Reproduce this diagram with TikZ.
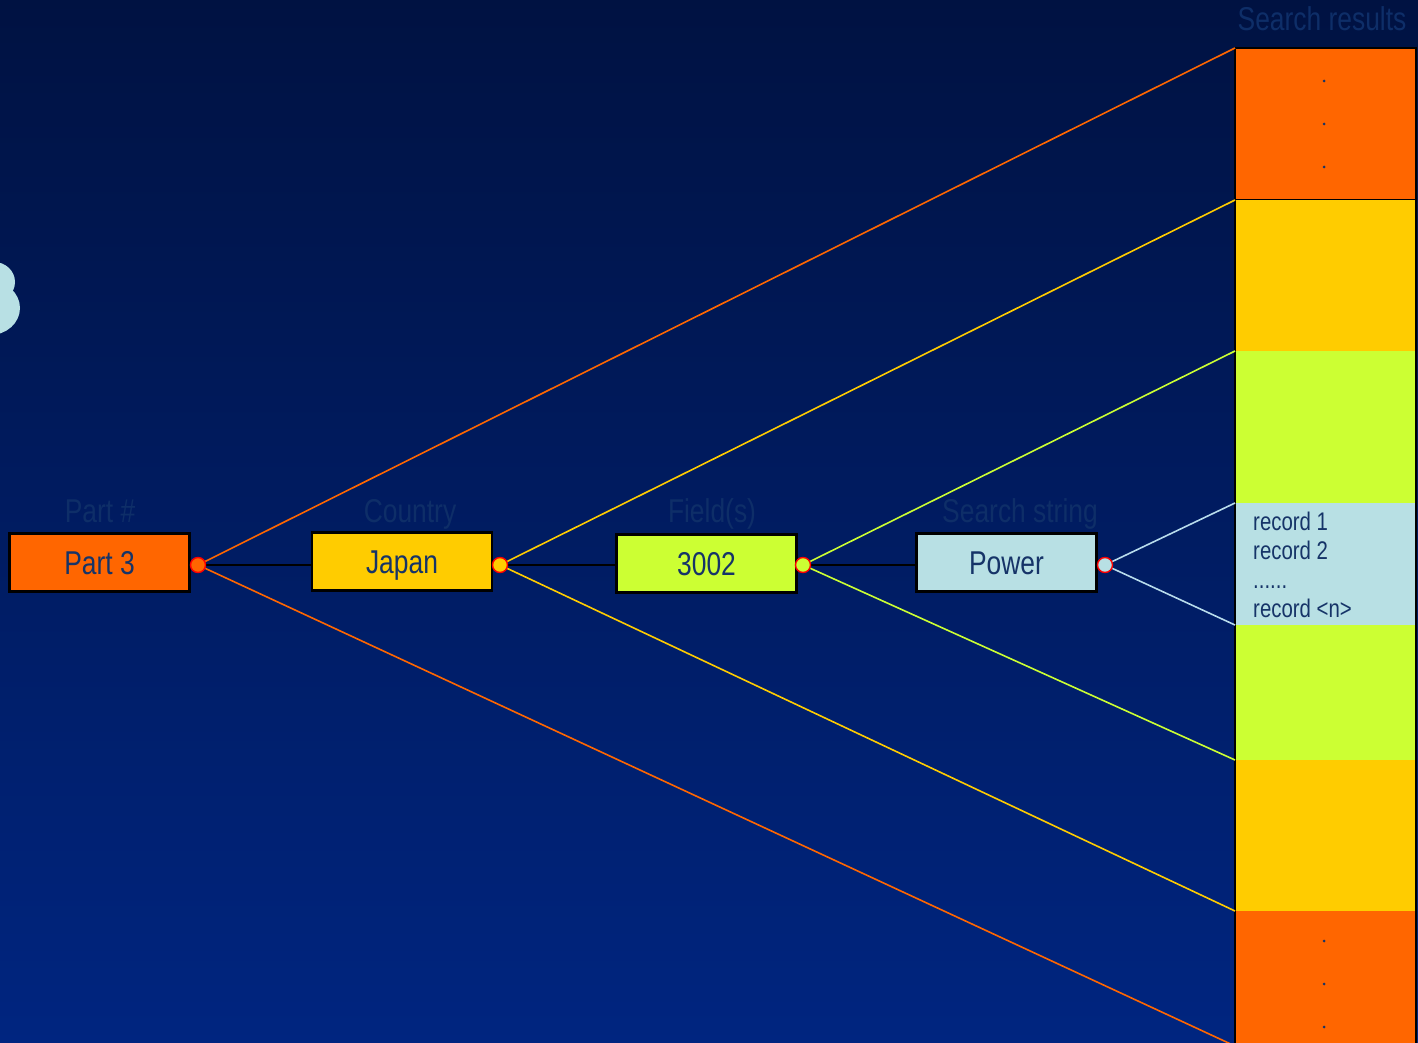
\documentclass[tikz,border=0pt]{standalone}
\usepackage{fontspec}
\setmainfont{Liberation Sans}[FakeStretch=0.8]
\definecolor{bgtop}{RGB}{0,18,66}
\definecolor{bgbot}{RGB}{0,37,128}
\definecolor{orng}{HTML}{FF6600}
\definecolor{yell}{HTML}{FFCC00}
\definecolor{lime}{HTML}{CCFF33}
\definecolor{cyn}{HTML}{B8E0E4}
\definecolor{cynline}{HTML}{B8DCEC}
\definecolor{txt}{RGB}{22,52,104}
\definecolor{lbl}{RGB}{14,46,104}
\begin{document}
\begin{tikzpicture}[x=1pt,y=-1pt,
  box/.style={draw=black, line width=2.2pt, minimum width=180pt, minimum height=58pt, inner sep=0pt,
    text height=30pt, text depth=6pt,
    text=txt, font=\fontsize{33}{38}\selectfont},
  lab/.style={text=lbl, font=\fontsize{33}{38}\selectfont, inner sep=0pt, anchor=base},
  seg/.style={minimum width=181pt, inner sep=0pt, anchor=north west, outer sep=0pt},
  joint/.style={circle, draw=red, line width=1.4pt, minimum size=15pt, inner sep=0pt},
  fan/.style={line width=1.6pt},
  rec/.style={text=txt, font=\fontsize{25.5}{30}\selectfont, inner sep=0pt, anchor=base west},
  dotmark/.style={circle, fill=txt, minimum size=3pt, inner sep=0pt}
]
\useasboundingbox (0,0) rectangle (1418,1043);
\shade[top color=bgtop, bottom color=bgbot] (0,0) rectangle (1418,1043);

% cloud fragment at left
\fill[cyn] (-6,282) ellipse [x radius=21pt, y radius=20pt];
\fill[cyn] (-10,308) ellipse [x radius=30pt, y radius=27pt];

% result column
\node[seg, fill=orng, minimum height=152pt] (r1) at (1235,48) {};
\node[seg, fill=yell, minimum height=151pt] (r2) at (1235,200) {};
\node[seg, fill=lime, minimum height=152pt] (r3) at (1235,351) {};
\node[seg, fill=cyn, minimum height=122pt] (r4) at (1235,503) {};
\node[seg, fill=lime, minimum height=135pt] (r5) at (1235,625) {};
\node[seg, fill=yell, minimum height=151pt] (r6) at (1235,760) {};
\node[seg, fill=orng, minimum height=151pt] (r7) at (1235,911) {};
\draw[black, line width=1.8pt] (r7.south west) -- (r1.north west) -- (r1.north east) -- (r7.south east);
\draw[black, line width=1.8pt] (r1.south west) -- (r1.south east);
\fill[yell] ([xshift=1pt,yshift=-0.9pt]r2.north west) rectangle ([xshift=-0.9pt]r2.north east);

\node[dotmark] (d1) at (1324,81) {};
\node[dotmark] (d2) at (1324,124) {};
\node[dotmark] (d3) at (1324,167) {};
\node[dotmark] (d4) at (1324,941) {};
\node[dotmark] (d5) at (1324,984) {};
\node[dotmark] (d6) at (1324,1027) {};

\node[rec] (t1) at (1253,530) {record 1};
\node[rec] (t2) at (1253,559) {record 2};
\node[rec] (t3) at (1253,588) {......};
\node[rec] (t4) at (1253,617) {record <n>};

% labels
\node[lab] (l1) at (100,522) {Part \#};
\node[lab] (l2) at (410,522) {Country};
\node[lab] (l3) at (712,522) {Field(s)};
\node[lab] (l4) at (1020,522) {Search string};
\node[lab] (l5) at (1322,31) {Search results};

% boxes
\node[box, fill=orng] (b1) at (99.5,562.5) {Part 3};
\node[box, fill=yell] (b2) at (402,561.5) {Japan};
\node[box, fill=lime] (b3) at (706.5,563.5) {3002};
\node[box, fill=cyn] (b4) at (1006.5,562.5) {Power};

% joints (positions)
\coordinate (j1) at (198,565);
\coordinate (j2) at (500,565);
\coordinate (j3) at (803,565);
\coordinate (j4) at (1105,565);
\coordinate (bot) at (1235,1046);

% chain lines
\draw[black, line width=2.2pt] (j1) -- (b2.west |- j1);
\draw[black, line width=2.2pt] (j2) -- (b3.west |- j2);
\draw[black, line width=2.2pt] (j3) -- (b4.west |- j3);

% fan lines
\draw[fan, orng] (r1.north west) -- (j1) -- (bot);
\draw[fan, yell] (r2.north west) -- (j2) -- (r6.south west);
\draw[fan, lime] (r3.north west) -- (j3) -- (r5.south west);
\draw[fan, cynline] (r4.north west) -- (j4) -- (r4.south west);

% joint dots
\node[joint, fill=orng] (c1) at (j1) {};
\node[joint, fill=yell] (c2) at (j2) {};
\node[joint, fill=lime] (c3) at (j3) {};
\node[joint, fill=cyn] (c4) at (j4) {};
\end{tikzpicture}
\end{document}
